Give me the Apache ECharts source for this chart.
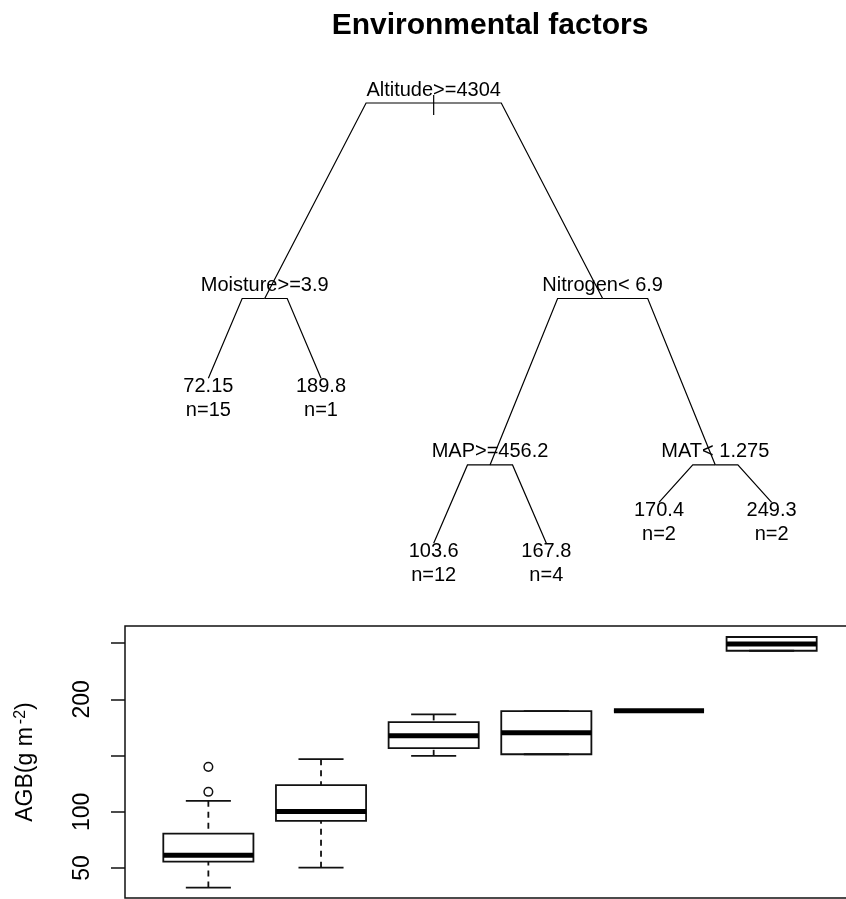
<!DOCTYPE html>
<html><head><meta charset="utf-8">
<script src="https://cdn.jsdelivr.net/npm/echarts@6/dist/echarts.min.js"></script>
<style>html,body{margin:0;padding:0;background:#fff}#c{width:846px;height:899px}</style>
</head><body><div id="c"></div>
<script>
// ---------- data ----------
const chartTitle = 'Environmental factors';
// regression tree nodes (rpart numbering: children of k are 2k and 2k+1)
const nodeIds     = [1, 2, 3, 4, 5, 6, 7, 12, 13, 14, 15];
const nodeLabels  = ['Altitude>=4304', 'Moisture>=3.9', 'Nitrogen< 6.9', '72.15', '189.8',
                     'MAP>=456.2', 'MAT< 1.275', '103.6', '167.8', '170.4', '249.3'];
const nodeCounts  = [null, null, null, 15, 1, null, null, 12, 4, 2, 2];
// relative node heights (root = 1, lowest leaf = 0)
const nodeHeights = [1.0, 0.556, 0.556, 0.375, 0.375, 0.178, 0.178, 0.0, 0.0, 0.093, 0.093];

// boxplot of AGB per terminal node (ordered by mean)
const boxGroups = ['72.15', '103.6', '167.8', '170.4', '189.8', '249.3'];
const boxLow    = [32.7, 50.4, 149.8, 151.2, 189.8, 243.2];
const boxQ1     = [55.8, 92.0, 156.6, 151.2, 189.8, 243.2];
const boxMedian = [61.4, 100.3, 167.6, 170.4, 189.8, 249.3];
const boxQ3     = [80.7, 123.7, 179.7, 189.6, 189.8, 255.4];
const boxHigh   = [109.8, 146.8, 186.6, 189.6, 189.8, 255.4];
const outlierGroup = [1, 1];
const outlierValue = [117.8, 140.0];
const yTicks      = [50, 100, 150, 200, 250];
const yTickLabels = [50, 100, 200];
const yName = 'AGB(g m';
const yNameSup = '-2';

// ---------- derived layout ----------
const FONT = 'Liberation Sans, Arial, sans-serif';
const BRANCH = 0.4;
const idx = {}; nodeIds.forEach((id, i) => idx[id] = i);
const isLeaf = id => idx[2 * id] === undefined;
const nodeX = {};
let leafCounter = 0;
(function layout(id) {
  if (isLeaf(id)) { leafCounter++; nodeX[id] = leafCounter; }
  else { layout(2 * id); layout(2 * id + 1); nodeX[id] = (nodeX[2 * id] + nodeX[2 * id + 1]) / 2; }
})(1);
const edgeData = [];
nodeIds.forEach((id, i) => {
  if (id > 1) {
    const p = Math.floor(id / 2);
    edgeData.push([nodeX[p], nodeHeights[idx[p]], nodeX[id], nodeHeights[i]]);
  }
});
const nodeData = nodeIds.map((id, i) => [nodeX[id], nodeHeights[i], i]);
const boxData = boxGroups.map((g, i) => [i + 1, boxLow[i], boxQ1[i], boxMedian[i], boxQ3[i], boxHigh[i]]);
const outlierData = outlierGroup.map((g, i) => [g, outlierValue[i]]);

function txt(s, x, y) {
  return { type: 'text', style: { text: s, x: x, y: y, fill: '#000', fontSize: 20, fontFamily: FONT,
           align: 'center', verticalAlign: 'middle' } };
}

const chart = echarts.init(document.getElementById('c'), null, { renderer: 'canvas' });
chart.setOption({
  animation: false,
  backgroundColor: '#fff',
  title: { text: chartTitle, left: 485, top: 6, textAlign: 'center',
           textStyle: { fontSize: 30, fontWeight: 'bold', fontFamily: FONT, color: '#000' } },
  grid: [
    { left: 125, width: 730, top: 103, height: 440.3, show: false, outerBoundsMode: 'none' },
    { left: 125, width: 730, top: 626, height: 272, show: true, borderColor: '#111', borderWidth: 1.5,
      backgroundColor: 'transparent', outerBoundsMode: 'none' }
  ],
  xAxis: [
    { gridIndex: 0, type: 'value', min: 0.26, max: 6.74, show: false },
    { gridIndex: 1, type: 'value', min: 0.26, max: 6.74, show: false }
  ],
  yAxis: [
    { gridIndex: 0, type: 'value', min: 0, max: 1, show: false },
    { gridIndex: 1, type: 'value', min: 23.4, max: 265.2,
      axisLine: { show: false }, splitLine: { show: false },
      axisTick: { show: true, inside: false, length: 14, customValues: yTicks,
                  lineStyle: { color: '#111', width: 1.5 } },
      axisLabel: { show: true, customValues: yTickLabels, rotate: 90, margin: 31,
                   fontSize: 23, fontFamily: FONT, color: '#000' },
      name: '{a|' + yName + '}{s|' + yNameSup + '}{a|)}',
      nameLocation: 'middle', nameRotate: 90, nameGap: 86,
      nameTextStyle: { color: '#000', fontSize: 23, fontFamily: FONT,
        rich: { a: { fontSize: 23, fontFamily: FONT, color: '#000', lineHeight: 26 },
                s: { fontSize: 16, fontFamily: FONT, color: '#000', lineHeight: 20, verticalAlign: 'top',
                     padding: [0, 0, 0, 3] } } }
    }
  ],
  series: [
    { type: 'custom', xAxisIndex: 0, yAxisIndex: 0, data: edgeData, encode: { x: [0, 2], y: [1, 3] },
      renderItem: function (params, api) {
        const p = api.coord([api.value(0), api.value(1)]);
        const c = api.coord([api.value(2), api.value(3)]);
        const bx = p[0] + BRANCH * (c[0] - p[0]);
        return { type: 'polyline', shape: { points: [p, [bx, p[1]], c] },
                 style: { stroke: '#000', lineWidth: 1.2, fill: null } };
      } },
    { type: 'custom', xAxisIndex: 0, yAxisIndex: 0, data: nodeData, encode: { x: 0, y: 1 },
      renderItem: function (params, api) {
        const i = api.value(2);
        const pt = api.coord([api.value(0), api.value(1)]);
        const id = nodeIds[i];
        if (isLeaf(id)) {
          return { type: 'group', children: [txt(nodeLabels[i], pt[0], pt[1] + 8),
                                             txt('n=' + nodeCounts[i], pt[0], pt[1] + 32)] };
        }
        const ch = [txt(nodeLabels[i], pt[0], pt[1] - 13)];
        if (id === 1) ch.push({ type: 'line', shape: { x1: pt[0], y1: pt[1] - 8, x2: pt[0], y2: pt[1] + 12 },
                                style: { stroke: '#000', lineWidth: 1.2 } });
        return { type: 'group', children: ch };
      } },
    { type: 'custom', xAxisIndex: 1, yAxisIndex: 1, data: boxData, encode: { x: 0, y: [1, 2, 3, 4, 5] },
      renderItem: function (params, api) {
        const x = api.value(0);
        const px = v => api.coord([v, 100])[0];
        const py = k => api.coord([x, api.value(k)])[1];
        const left = px(x - 0.4), right = px(x + 0.4), cx = px(x), capL = px(x - 0.2), capR = px(x + 0.2);
        const yLo = py(1), yQ1 = py(2), yMed = py(3), yQ3 = py(4), yHi = py(5);
        const solid = { stroke: '#111', lineWidth: 1.8 };
        const dashed = { stroke: '#111', lineWidth: 1.8, lineDash: [6, 5] };
        const ch = [];
        if (yQ3 - yHi > 0.5) ch.push({ type: 'line', shape: { x1: cx, y1: yHi, x2: cx, y2: yQ3 }, style: dashed });
        if (yLo - yQ1 > 0.5) ch.push({ type: 'line', shape: { x1: cx, y1: yLo, x2: cx, y2: yQ1 }, style: dashed });
        ch.push({ type: 'line', shape: { x1: capL, y1: yHi, x2: capR, y2: yHi }, style: solid });
        ch.push({ type: 'line', shape: { x1: capL, y1: yLo, x2: capR, y2: yLo }, style: solid });
        ch.push({ type: 'rect', shape: { x: left, y: yQ3, width: right - left, height: yQ1 - yQ3 },
                  style: { stroke: '#111', lineWidth: 1.8, fill: null } });
        ch.push({ type: 'line', shape: { x1: left, y1: yMed, x2: right, y2: yMed },
                  style: { stroke: '#000', lineWidth: 5 } });
        return { type: 'group', children: ch };
      } },
    { type: 'custom', xAxisIndex: 1, yAxisIndex: 1, data: outlierData, encode: { x: 0, y: 1 },
      renderItem: function (params, api) {
        const c = api.coord([api.value(0), api.value(1)]);
        return { type: 'circle', shape: { cx: c[0], cy: c[1], r: 4.3 },
                 style: { stroke: '#111', lineWidth: 1.5, fill: '#fff' } };
      } }
  ]
});
</script></body></html>
